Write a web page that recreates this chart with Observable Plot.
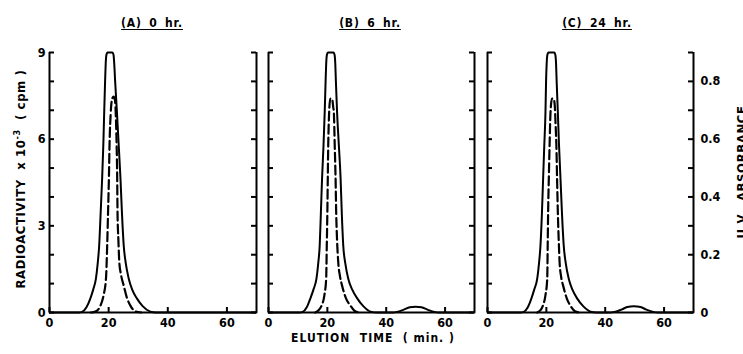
<!DOCTYPE html>
<html>
<head>
<meta charset="utf-8">
<script src="https://cdn.jsdelivr.net/npm/d3@7"></script>
<script src="https://cdn.jsdelivr.net/npm/@observablehq/plot@0.6"></script>
<style>
html, body { margin: 0; padding: 0; background: #fff; overflow: hidden; }
#wrap { position: relative; width: 743px; height: 354px; overflow: hidden; background: #fff;
  font-family: "DejaVu Sans Condensed", "DejaVu Sans", sans-serif; font-weight: bold; color: #000; }
.panel { position: absolute; top: 0; }
.txt { position: absolute; white-space: pre; line-height: 1; }
.title { font-size: 12px; letter-spacing: 0.8px; word-spacing: 3px; text-decoration: underline; text-underline-offset: 2px; transform: translate(-50%, 0); }
.ylab { font-size: 13px; letter-spacing: 0.6px; transform: translate(-50%, -50%) rotate(-90deg); }
.xlab { font-size: 12px; letter-spacing: 1px; transform: translate(-50%, -50%); }
sup { font-size: 9px; vertical-align: 5px; }
</style>
</head>
<body>
<div id="wrap"></div>
<script>
// ---- data ----
const panelTitles = ["(A) 0 hr.", "(B) 6 hr.", "(C) 24 hr."];
const xDomain = [0, 70];
const yDomain = [0, 9];
const xTicks = [0, 20, 40, 60];
const yMinorTicks = [0, 1, 2, 3, 4, 5, 6, 7, 8, 9];
const yLabelTicks = [0, 3, 6, 9];
const absTicks = [0, 0.2, 0.4, 0.6, 0.8];
const absTickLabels = ["0", "0.2", "0.4", "0.6", "0.8"];
const cpmPerAbs = 10; // 0.9 absorbance <-> 9 x10^-3 cpm

// solid curve [time (min), value on left scale]
const solidA = [[0,0],[10,0],[11,0.02],[12.5,0.18],[13.8,0.48],[14.8,0.8],[15.7,1.17],[16.3,1.7],[16.8,2.32],[17.3,3.45],[17.8,4.64],[18.2,5.8],[18.5,6.94],[18.8,8.0],[19.0,8.6],[19.25,8.92],[19.6,9],[21.3,9],[21.65,8.92],[21.9,8.6],[22.2,8.0],[22.8,6.94],[23.4,5.8],[24.0,4.64],[24.5,3.45],[25.1,2.32],[25.8,1.7],[26.8,1.17],[28.0,0.78],[29.6,0.48],[31.5,0.22],[34.1,0.03],[36,0],[70,0]];
const dashedA = [[14,0],[15.5,0.03],[17.2,0.23],[18.3,0.6],[19.1,1.17],[19.5,2.3],[19.8,3.47],[20.1,4.7],[20.3,5.8],[20.7,6.9],[21.2,7.4],[21.7,7.47],[22.2,7.3],[22.5,6.6],[22.7,5.8],[22.9,4.6],[23.0,3.47],[23.3,2.5],[23.6,1.74],[24.2,1.3],[25.1,0.93],[26.2,0.5],[27.4,0.23],[29,0.04],[31,0]];

const solidB = [[0,0],[10.5,0],[11.6,0.02],[13,0.18],[14.2,0.48],[15.3,0.8],[16.3,1.17],[16.9,1.7],[17.4,2.32],[17.8,3.45],[18.2,4.64],[18.7,5.8],[19.1,6.94],[19.4,8.0],[19.6,8.6],[19.85,8.92],[20.2,9],[22.1,9],[22.45,8.92],[22.7,8.6],[22.9,8.0],[23.3,6.94],[23.9,5.8],[24.5,4.64],[24.9,3.45],[25.4,2.32],[26.1,1.7],[27.1,1.17],[28.5,0.78],[30.2,0.48],[32.2,0.22],[34.7,0.03],[37,0],[42,0],[44,0.03],[46,0.1],[48,0.18],[50,0.2],[52,0.18],[54,0.1],[56,0.03],[58,0],[70,0]];
const dashedB = [[15.9,0],[17,0.08],[18,0.23],[19,0.6],[19.6,1.17],[19.8,2.3],[20.0,3.47],[20.15,4.7],[20.3,5.8],[20.6,6.9],[21.0,7.4],[21.6,7.4],[22.0,7.1],[22.2,6.94],[22.5,5.8],[22.8,4.6],[23.0,3.47],[23.3,2.5],[23.7,1.74],[24.3,1.25],[25.0,0.93],[26.3,0.5],[27.9,0.23],[29.6,0.03],[31,0]];

const solidC = [[0,0],[11.2,0],[12.3,0.02],[13.7,0.18],[14.9,0.48],[15.9,0.8],[16.9,1.17],[17.5,1.7],[18.0,2.32],[18.5,3.45],[18.9,4.64],[19.3,5.8],[19.7,6.94],[19.9,8.0],[20.1,8.6],[20.35,8.92],[20.7,9],[22.7,9],[23.05,8.92],[23.3,8.6],[23.5,8.0],[23.9,6.94],[24.3,5.8],[24.8,4.64],[25.3,3.45],[25.9,2.32],[26.6,1.7],[27.6,1.17],[28.9,0.78],[30.5,0.48],[32.5,0.22],[35,0.03],[37,0],[41,0],[43.5,0.03],[45.5,0.1],[47.5,0.19],[49.7,0.22],[52,0.19],[54,0.1],[56,0.03],[58,0],[70,0]];
const dashedC = [[16.9,0],[18,0.08],[18.8,0.23],[19.7,0.6],[20.3,1.17],[20.45,2.3],[20.6,3.47],[20.85,4.7],[21.1,5.8],[21.4,6.9],[21.9,7.4],[22.5,7.4],[22.9,7.1],[23.1,6.6],[23.4,5.8],[23.65,4.6],[23.9,3.47],[24.2,2.5],[24.5,1.74],[25.0,1.25],[25.7,0.93],[26.9,0.5],[28.2,0.23],[29.9,0.03],[31.5,0]];

const solids = [solidA, solidB, solidC];
const dasheds = [dashedA, dashedB, dashedC];

// ---- layout ----
const layout = [
  {left: 0,   width: 262, ml: 49, mr: 6,  titleX: 152},
  {left: 262, width: 218, ml: 6,  mr: 6,  titleX: 370},
  {left: 480, width: 263, ml: 7,  mr: 50, titleX: 597}
];
const H = 354, MT = 52, MB = 42;
const TICK = 5;

const wrap = document.getElementById("wrap");

layout.forEach((L, i) => {
  const innerW = L.width - L.ml - L.mr;
  const innerH = H - MT - MB;
  const marks = [
    Plot.ruleX(xDomain, {strokeWidth: 2}),
    Plot.ruleY([0], {strokeWidth: 2}),
    // inward ticks on both vertical edges and the bottom edge
    Plot.tickY(yMinorTicks, {y: d => d, insetRight: innerW - TICK, strokeWidth: 2}),
    Plot.tickY(yMinorTicks, {y: d => d, insetLeft: innerW - TICK, strokeWidth: 2}),
    Plot.tickX(xTicks, {x: d => d, insetTop: innerH - TICK, strokeWidth: 2}),
    Plot.axisX(xTicks, {anchor: "bottom", tickSize: 0, tickPadding: 6, label: null}),
    Plot.line(solids[i], {x: d => d[0], y: d => d[1], curve: "monotone-x", strokeWidth: 2}),
    Plot.line(dasheds[i], {x: d => d[0], y: d => d[1], curve: "monotone-x", strokeWidth: 2.2, strokeDasharray: "9,4"})
  ];
  if (i === 0) marks.push(Plot.axisY(yLabelTicks, {anchor: "left", tickSize: 0, tickPadding: 4, label: null}));
  if (i === 2) {
    const pos = absTicks.map(a => a * cpmPerAbs);
    marks.push(Plot.axisY(pos, {anchor: "right", tickSize: 0, tickPadding: 7, label: null,
      tickFormat: d => absTickLabels[pos.indexOf(d)]}));
  }
  const svg = Plot.plot({
    width: L.width, height: H,
    marginLeft: L.ml, marginRight: L.mr, marginTop: MT, marginBottom: MB,
    x: {domain: xDomain, axis: null},
    y: {domain: yDomain, axis: null},
    style: {fontFamily: '"DejaVu Sans Condensed", "DejaVu Sans", sans-serif', fontWeight: "bold", fontSize: "12.5px", overflow: "visible", background: "transparent"},
    marks
  });
  svg.classList.add("panel");
  svg.style.left = L.left + "px";
  wrap.appendChild(svg);

  const t = document.createElement("div");
  t.className = "txt title";
  t.style.left = L.titleX + "px";
  t.style.top = "17px";
  t.textContent = panelTitles[i];
  wrap.appendChild(t);
});

const yl = document.createElement("div");
yl.className = "txt ylab";
yl.style.left = "20px"; yl.style.top = "179px";
yl.innerHTML = "RADIOACTIVITY  x 10<sup>-3</sup>  ( cpm )";
wrap.appendChild(yl);

const yr = document.createElement("div");
yr.className = "txt ylab";
yr.style.left = "741px"; yr.style.top = "172px";
yr.textContent = "U.V.  ABSORBANCE";
wrap.appendChild(yr);

const xl = document.createElement("div");
xl.className = "txt xlab";
xl.style.left = "373px"; xl.style.top = "338px";
xl.textContent = "ELUTION  TIME  ( min. )";
wrap.appendChild(xl);
</script>
</body>
</html>
